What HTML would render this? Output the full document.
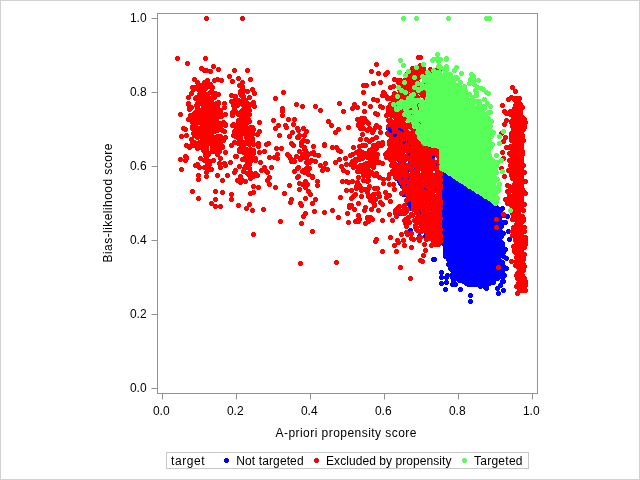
<!DOCTYPE html>
<html><head><meta charset="utf-8"><title>Scatter</title>
<style>
html,body{margin:0;padding:0;background:#fff;}
body{width:640px;height:480px;overflow:hidden;}
svg{display:block;}
text{font-family:"Liberation Sans",sans-serif;font-size:12px;fill:#000;}
</style></head><body>
<svg style="will-change:transform" width="640" height="480" viewBox="0 0 640 480">
<rect x="0" y="0" width="640" height="480" fill="#fff"/>
<rect x="0.5" y="0.5" width="639" height="479" fill="none" stroke="#d2d2d2" stroke-width="1"/>
<g transform="translate(.5,.5)" fill="none" stroke-width="5" stroke-linecap="round" shape-rendering="crispEdges">
<path stroke="#0000ff" d="M445 171h0M447 174h0M449 174h0M446 177h0M448 176h0M450 176h0M452 176h0M454 177h0M444 178h0M446 178h0M450 178h0M451 178h0M454 179h0M456 178h0M445 181h0M447 182h0M450 181h0M452 182h0M455 181h0M457 182h0M459 181h0M446 184h0M448 183h0M451 185h0M454 183h0M456 184h0M459 184h0M461 184h0M464 183h0M465 183h0M446 185h0M447 185h0M450 186h0M452 187h0M455 187h0M457 187h0M460 185h0M462 185h0M465 186h0M467 187h0M469 187h0M446 189h0M448 189h0M451 189h0M454 189h0M456 189h0M458 188h0M460 189h0M463 188h0M465 188h0M469 188h0M470 188h0M472 189h0M446 191h0M447 191h0M450 190h0M453 191h0M455 192h0M458 192h0M459 191h0M463 190h0M464 191h0M466 191h0M469 192h0M471 191h0M474 192h0M444 194h0M446 193h0M449 193h0M452 193h0M454 192h0M456 194h0M459 193h0M460 194h0M463 193h0M466 193h0M467 192h0M471 194h0M473 194h0M476 193h0M477 193h0M479 193h0M446 196h0M447 196h0M449 196h0M453 195h0M455 197h0M457 196h0M459 196h0M462 196h0M464 196h0M467 195h0M469 196h0M471 195h0M474 195h0M477 195h0M480 196h0M481 195h0M483 196h0M445 199h0M447 197h0M448 198h0M451 198h0M453 198h0M457 198h0M458 197h0M461 198h0M464 197h0M465 198h0M468 198h0M471 199h0M473 199h0M475 198h0M477 198h0M479 198h0M482 197h0M485 199h0M487 197h0M445 201h0M448 201h0M450 201h0M452 200h0M455 201h0M457 200h0M459 201h0M461 200h0M464 201h0M467 200h0M469 201h0M471 200h0M474 200h0M476 201h0M479 200h0M481 200h0M484 201h0M487 200h0M489 201h0M491 200h0M447 202h0M449 203h0M452 202h0M454 204h0M455 203h0M459 203h0M461 202h0M464 202h0M465 202h0M468 203h0M470 202h0M473 203h0M475 203h0M477 203h0M479 203h0M482 202h0M486 202h0M487 203h0M490 202h0M493 203h0M445 205h0M448 206h0M449 205h0M452 205h0M455 205h0M456 206h0M460 206h0M462 206h0M464 205h0M467 205h0M469 206h0M472 206h0M473 206h0M477 206h0M479 205h0M481 205h0M484 205h0M486 205h0M488 206h0M491 204h0M494 205h0M495 206h0M445 208h0M447 207h0M448 207h0M451 208h0M453 207h0M456 208h0M459 209h0M461 208h0M463 207h0M466 207h0M469 207h0M471 207h0M473 207h0M475 208h0M477 207h0M479 207h0M482 209h0M485 208h0M487 207h0M489 208h0M492 208h0M494 208h0M497 208h0M446 211h0M447 210h0M450 210h0M453 210h0M454 211h0M458 211h0M460 209h0M462 209h0M464 210h0M467 210h0M469 210h0M471 210h0M474 210h0M477 210h0M479 210h0M481 211h0M483 211h0M486 211h0M489 211h0M491 210h0M492 210h0M496 210h0M446 213h0M450 212h0M454 213h0M457 212h0M458 212h0M461 213h0M463 212h0M466 212h0M467 213h0M470 212h0M473 213h0M475 212h0M478 213h0M479 212h0M483 212h0M485 213h0M488 213h0M489 212h0M492 212h0M494 212h0M496 212h0M445 215h0M448 215h0M450 215h0M452 215h0M456 215h0M457 215h0M459 214h0M462 216h0M465 216h0M467 216h0M469 216h0M472 215h0M474 215h0M477 215h0M479 214h0M481 215h0M484 215h0M486 215h0M489 216h0M490 216h0M494 214h0M496 216h0M498 215h0M446 217h0M448 217h0M450 217h0M453 217h0M455 218h0M459 216h0M460 218h0M463 217h0M466 218h0M467 217h0M471 217h0M473 217h0M474 217h0M478 216h0M480 217h0M482 217h0M484 217h0M487 218h0M490 218h0M493 218h0M494 217h0M496 218h0M445 220h0M448 219h0M451 219h0M452 220h0M456 219h0M457 220h0M460 220h0M462 220h0M464 220h0M466 220h0M470 219h0M471 220h0M474 219h0M476 219h0M479 219h0M481 221h0M484 221h0M486 219h0M489 219h0M491 220h0M493 220h0M496 220h0M498 219h0M447 223h0M449 222h0M451 222h0M453 222h0M456 222h0M459 223h0M461 223h0M464 223h0M466 222h0M467 222h0M470 221h0M472 222h0M476 221h0M478 221h0M482 222h0M485 222h0M487 223h0M489 223h0M492 221h0M495 223h0M496 223h0M445 225h0M448 225h0M450 224h0M452 224h0M454 224h0M457 224h0M460 224h0M461 224h0M464 225h0M466 224h0M470 224h0M472 224h0M474 225h0M476 225h0M478 225h0M480 224h0M484 224h0M485 225h0M489 225h0M491 224h0M493 225h0M495 224h0M446 228h0M448 226h0M452 227h0M454 227h0M455 227h0M458 226h0M460 226h0M463 227h0M466 226h0M467 227h0M470 226h0M473 226h0M476 227h0M477 228h0M480 227h0M483 227h0M485 226h0M486 227h0M490 227h0M492 227h0M495 227h0M497 228h0M445 229h0M447 229h0M450 229h0M452 230h0M455 229h0M457 229h0M460 230h0M461 230h0M465 230h0M466 229h0M470 229h0M471 229h0M474 229h0M476 229h0M480 230h0M481 229h0M483 230h0M487 230h0M488 228h0M491 229h0M493 230h0M496 229h0M498 228h0M446 231h0M449 232h0M452 232h0M453 231h0M456 232h0M458 231h0M460 232h0M464 232h0M465 231h0M468 231h0M470 233h0M473 231h0M474 232h0M478 232h0M481 232h0M482 231h0M484 232h0M487 232h0M490 231h0M491 231h0M494 231h0M498 231h0M498 232h0M445 233h0M448 234h0M450 233h0M452 233h0M454 234h0M457 235h0M460 234h0M463 234h0M464 235h0M466 235h0M469 233h0M472 235h0M474 234h0M476 234h0M479 233h0M481 235h0M483 234h0M486 233h0M488 234h0M491 235h0M494 234h0M496 234h0M497 234h0M447 236h0M449 236h0M451 237h0M453 236h0M456 237h0M459 236h0M461 236h0M464 236h0M465 237h0M468 236h0M470 237h0M474 236h0M475 237h0M477 237h0M480 237h0M482 237h0M485 236h0M487 237h0M489 237h0M492 236h0M495 237h0M497 236h0M498 236h0M446 239h0M447 240h0M450 239h0M453 239h0M455 238h0M457 238h0M459 239h0M461 240h0M465 239h0M468 239h0M470 238h0M472 240h0M474 238h0M477 239h0M478 239h0M481 240h0M483 238h0M486 239h0M489 239h0M491 239h0M493 239h0M496 239h0M497 239h0M446 241h0M449 241h0M452 241h0M454 242h0M456 242h0M459 241h0M460 241h0M463 242h0M465 242h0M468 241h0M471 242h0M472 241h0M475 242h0M478 241h0M479 242h0M482 241h0M485 242h0M488 241h0M490 241h0M492 242h0M494 241h0M496 241h0M445 244h0M448 243h0M450 244h0M452 244h0M455 243h0M458 244h0M460 243h0M462 244h0M464 244h0M466 243h0M469 244h0M472 243h0M474 244h0M477 245h0M479 243h0M481 243h0M483 243h0M486 243h0M489 244h0M491 245h0M494 243h0M496 244h0M499 244h0M446 246h0M448 247h0M452 247h0M453 246h0M456 247h0M458 246h0M461 246h0M463 247h0M465 246h0M469 246h0M471 247h0M472 246h0M475 246h0M477 247h0M479 246h0M482 246h0M485 246h0M488 245h0M490 247h0M493 246h0M494 246h0M496 247h0M499 246h0M447 249h0M450 249h0M453 248h0M455 249h0M457 249h0M460 249h0M462 248h0M465 248h0M466 248h0M469 249h0M472 249h0M473 249h0M476 249h0M479 249h0M480 249h0M483 248h0M486 249h0M488 249h0M491 248h0M493 249h0M496 248h0M497 248h0M446 251h0M449 250h0M451 251h0M454 252h0M457 251h0M458 252h0M460 252h0M463 251h0M465 250h0M468 251h0M471 251h0M474 251h0M475 251h0M478 250h0M481 252h0M483 251h0M485 251h0M487 251h0M490 252h0M493 251h0M495 250h0M498 251h0M499 251h0M448 252h0M451 254h0M452 254h0M455 254h0M458 253h0M459 253h0M463 254h0M464 253h0M467 254h0M469 253h0M471 253h0M474 254h0M476 253h0M480 254h0M482 253h0M484 253h0M486 254h0M489 253h0M491 254h0M492 253h0M496 254h0M498 253h0M446 256h0M448 255h0M451 255h0M454 256h0M456 255h0M458 257h0M461 256h0M464 256h0M466 256h0M468 256h0M470 256h0M474 256h0M476 255h0M477 257h0M480 256h0M482 256h0M485 256h0M487 255h0M489 256h0M491 255h0M495 256h0M497 256h0M499 255h0M448 259h0M450 258h0M453 258h0M454 258h0M457 258h0M459 258h0M462 259h0M464 258h0M467 258h0M469 258h0M471 258h0M473 259h0M476 259h0M480 258h0M482 258h0M484 258h0M486 258h0M488 259h0M490 258h0M493 258h0M495 259h0M497 258h0M449 261h0M452 260h0M453 260h0M456 261h0M458 260h0M462 260h0M463 261h0M466 261h0M469 261h0M471 260h0M472 261h0M475 260h0M478 261h0M481 261h0M483 261h0M485 260h0M487 261h0M489 260h0M493 261h0M495 261h0M496 260h0M450 262h0M452 263h0M455 263h0M457 263h0M460 263h0M462 264h0M465 264h0M467 264h0M469 264h0M472 262h0M474 262h0M477 264h0M479 263h0M481 264h0M483 263h0M485 262h0M489 262h0M490 263h0M493 263h0M496 262h0M499 263h0M448 264h0M451 265h0M453 266h0M455 265h0M458 266h0M462 265h0M463 265h0M466 265h0M468 264h0M471 266h0M472 264h0M476 265h0M477 265h0M480 266h0M482 266h0M485 265h0M488 266h0M490 265h0M492 266h0M494 266h0M498 266h0M499 266h0M450 268h0M452 267h0M454 268h0M457 267h0M460 268h0M462 268h0M464 267h0M467 268h0M469 269h0M471 268h0M473 268h0M477 267h0M478 267h0M481 268h0M483 267h0M486 268h0M488 268h0M490 267h0M493 269h0M496 267h0M499 268h0M452 270h0M454 270h0M456 269h0M459 271h0M461 270h0M463 270h0M466 271h0M468 271h0M470 270h0M473 269h0M475 269h0M477 270h0M481 271h0M483 271h0M485 271h0M487 270h0M490 270h0M491 271h0M494 270h0M497 269h0M453 272h0M455 272h0M457 272h0M460 272h0M462 272h0M465 273h0M467 272h0M469 272h0M472 273h0M474 273h0M477 273h0M479 273h0M480 272h0M484 273h0M486 272h0M488 272h0M491 272h0M494 273h0M495 273h0M497 272h0M454 274h0M456 275h0M459 274h0M460 274h0M464 275h0M465 274h0M468 275h0M470 275h0M473 275h0M476 274h0M478 275h0M480 275h0M482 275h0M485 275h0M488 276h0M489 275h0M492 275h0M495 274h0M497 274h0M499 274h0M456 276h0M458 278h0M460 278h0M462 278h0M464 278h0M466 277h0M470 277h0M472 276h0M474 277h0M476 278h0M479 278h0M481 278h0M483 277h0M485 278h0M488 277h0M491 277h0M493 277h0M495 277h0M498 277h0M459 280h0M461 279h0M463 279h0M465 279h0M469 279h0M470 280h0M473 279h0M474 280h0M477 281h0M481 280h0M483 280h0M484 281h0M487 280h0M490 279h0M492 279h0M494 279h0M463 281h0M465 281h0M467 282h0M470 282h0M471 281h0M475 282h0M477 282h0M480 283h0M481 283h0M483 282h0M486 282h0M489 281h0M491 282h0M493 282h0M468 284h0M471 284h0M474 284h0M476 284h0M478 284h0M483 284h0M443 172h0M443 173h0M443 175h0M443 176h0M443 178h0M443 180h0M443 181h0M443 183h0M443 185h0M443 186h0M443 188h0M443 189h0M443 191h0M443 193h0M443 195h0M443 196h0M443 198h0M443 200h0M443 201h0M443 203h0M443 205h0M443 206h0M443 208h0M443 209h0M443 211h0M443 213h0M443 215h0M443 216h0M443 218h0M443 219h0M443 221h0M443 223h0M443 224h0M443 226h0M443 227h0M443 229h0M443 231h0M443 233h0M443 234h0M443 236h0M443 237h0M443 239h0M443 241h0M443 243h0M445 243h0M445 245h0M445 246h0M445 248h0M445 250h0M445 252h0M445 254h0M445 256h0M453 281h0M452 268h0M467 273h0M500 270h0M461 237h0M476 246h0M489 271h0M473 240h0M466 244h0M473 267h0M451 262h0M495 243h0M478 259h0M484 249h0M477 255h0M468 266h0M451 266h0M483 281h0M474 263h0M497 278h0M456 267h0M453 252h0M476 251h0M498 268h0M455 267h0M474 252h0M465 254h0M469 257h0M475 252h0M453 273h0M452 277h0M462 261h0M467 263h0M500 268h0M449 258h0M474 249h0M470 278h0M464 233h0M474 241h0M460 255h0M490 273h0M481 258h0M457 257h0M486 286h0M471 279h0M481 254h0M451 257h0M462 266h0M460 259h0M483 249h0M482 249h0M479 265h0M469 251h0M477 269h0M482 270h0M465 275h0M473 250h0M470 248h0M481 260h0M490 269h0M466 283h0M466 280h0M484 276h0M469 277h0M470 266h0M480 274h0M479 260h0M455 275h0M491 244h0M467 281h0M484 286h0M465 266h0M500 252h0M460 269h0M462 277h0M457 260h0M479 266h0M490 257h0M473 277h0M473 256h0M495 266h0M457 278h0M471 262h0M488 263h0M486 288h0M483 255h0M470 260h0M480 286h0M491 269h0M479 271h0M473 252h0M467 266h0M467 276h0M489 261h0M459 256h0M466 258h0M480 262h0M480 276h0M478 269h0M468 255h0M478 254h0M452 274h0M455 270h0M480 251h0M495 244h0M468 263h0M466 257h0M502 262h0M478 268h0M482 261h0M495 272h0M478 257h0M463 249h0M475 278h0M502 281h0M459 263h0M473 243h0M479 268h0M477 271h0M484 277h0M473 258h0M482 255h0M462 255h0M486 252h0M464 266h0M470 255h0M464 260h0M485 259h0M480 246h0M474 258h0M469 271h0M489 283h0M475 266h0M491 281h0M488 267h0M462 263h0M496 261h0M495 265h0M471 256h0M462 267h0M504 275h0M455 284h0M456 273h0M480 280h0M466 274h0M471 265h0M479 255h0M476 264h0M447 275h0M456 250h0M476 269h0M502 245h0M492 261h0M476 260h0M498 264h0M469 265h0M484 262h0M467 278h0M472 272h0M468 270h0M463 263h0M479 269h0M494 262h0M503 252h0M499 218h0M502 208h0M499 273h0M500 262h0M497 250h0M502 273h0M499 219h0M499 260h0M499 231h0M502 243h0M502 270h0M499 222h0M499 228h0M501 233h0M502 254h0M497 241h0M497 255h0M500 235h0M502 277h0M503 215h0M499 242h0M499 212h0M500 242h0M502 251h0M500 227h0M498 226h0M498 212h0M498 260h0M501 251h0M501 232h0M501 213h0M500 271h0M498 241h0M503 266h0M498 261h0M499 264h0M501 226h0M500 241h0M503 251h0M500 231h0M503 256h0M499 214h0M501 253h0M503 233h0M501 236h0M498 245h0M500 212h0M497 235h0M502 246h0M499 250h0M502 268h0M497 213h0M502 222h0M500 224h0M498 271h0M500 246h0M501 242h0M499 234h0M499 247h0M501 266h0M498 225h0M501 262h0M470 295h0M470 301h0M498 293h0M441 272h0M446 277h0M460 289h0M452 284h0M441 283h0M445 289h0M507 216h0M509 239h0M506 258h0M505 249h0M503 281h0M500 285h0M497 288h0M505 222h0M508 231h0M506 268h0M503 290h0M407 169h0M429 177h0M424 218h0M433 151h0M399 133h0M421 204h0M428 149h0M419 207h0M426 214h0M408 180h0M434 187h0M407 191h0M416 191h0M425 211h0M402 181h0M427 201h0M425 186h0M427 218h0M425 188h0M421 195h0M431 157h0M412 200h0M412 204h0M406 190h0M430 158h0M396 138h0M405 131h0M433 222h0M413 138h0M405 159h0M429 219h0M399 152h0M427 175h0M424 204h0M427 181h0M423 215h0M405 183h0M396 149h0M402 157h0M430 217h0M427 166h0M427 176h0M416 145h0M424 192h0M400 138h0M396 171h0M411 207h0M414 181h0M422 151h0M426 174h0M406 133h0M405 194h0M429 220h0M414 204h0M410 151h0M403 141h0M431 149h0M404 158h0M435 222h0M422 213h0M430 172h0M426 190h0M434 190h0M413 181h0M403 193h0M404 156h0M409 164h0M426 149h0M432 167h0M411 204h0M403 194h0M424 151h0M405 136h0M424 219h0M422 180h0M417 209h0M409 200h0M413 195h0M416 140h0M414 168h0M396 147h0M415 141h0M421 142h0M415 179h0M414 203h0M398 176h0M429 218h0M412 139h0M425 199h0M411 137h0M405 139h0M403 133h0M402 175h0M418 149h0M411 160h0M415 149h0M433 168h0M411 145h0M417 150h0M407 176h0M400 183h0M422 223h0M429 169h0M417 171h0M405 172h0M415 182h0M406 181h0M399 160h0M417 177h0M410 194h0M414 171h0M420 145h0M415 138h0M412 172h0M428 225h0M416 150h0M404 142h0M433 199h0M424 220h0M425 210h0M413 184h0M419 215h0M432 208h0M426 172h0M418 196h0M406 191h0M435 202h0M411 159h0M414 159h0M426 187h0M412 152h0M418 220h0M400 154h0M421 194h0M424 184h0M416 151h0M411 169h0M427 197h0M424 226h0M399 127h0M418 198h0M403 146h0M400 147h0M430 181h0M419 209h0M410 187h0M424 185h0M402 138h0M413 177h0M413 200h0M405 158h0M424 213h0M428 215h0M412 188h0M403 168h0M418 155h0M419 187h0M397 148h0M425 231h0M427 223h0M418 185h0M433 179h0M420 208h0M416 171h0M435 226h0M435 167h0M402 154h0M418 139h0M435 184h0M419 188h0M425 187h0M428 211h0M395 131h0M403 187h0M409 208h0M408 136h0M410 155h0M430 152h0M414 190h0M432 156h0M403 178h0M408 203h0M435 182h0M409 166h0M422 220h0M420 148h0M434 164h0M410 179h0M419 222h0M410 188h0M432 210h0M417 165h0M388 128h0M391 133h0M394 126h0M389 131h0M400 213h0M410 230h0M419 236h0M425 236h0M433 259h0M421 226h0M424 224h0M396 178h0M399 181h0M402 186h0M434 259h0M441 277h0M446 282h0"/>
<path stroke="#ff0000" d="M203 102h0M202 104h0M201 88h0M205 130h0M215 111h0M207 144h0M205 117h0M202 112h0M200 128h0M212 128h0M204 114h0M206 131h0M213 144h0M208 111h0M217 145h0M214 116h0M199 136h0M202 119h0M216 112h0M206 125h0M212 98h0M198 89h0M188 119h0M190 115h0M201 98h0M209 161h0M213 106h0M215 130h0M217 130h0M195 112h0M209 115h0M204 84h0M225 124h0M206 156h0M199 142h0M211 140h0M206 108h0M208 99h0M212 137h0M210 125h0M203 116h0M205 114h0M205 132h0M212 111h0M200 117h0M192 87h0M214 97h0M212 131h0M219 111h0M216 103h0M212 125h0M205 144h0M224 103h0M209 113h0M220 167h0M219 139h0M215 125h0M211 92h0M210 134h0M202 116h0M196 105h0M202 88h0M217 112h0M218 102h0M210 113h0M201 89h0M209 141h0M215 116h0M203 97h0M205 134h0M209 130h0M212 110h0M218 94h0M213 118h0M218 128h0M209 132h0M202 91h0M212 122h0M206 84h0M214 138h0M208 127h0M206 138h0M199 120h0M206 119h0M209 109h0M213 66h0M211 169h0M197 115h0M216 126h0M211 128h0M214 108h0M216 119h0M215 126h0M208 110h0M208 128h0M204 143h0M206 136h0M214 125h0M208 134h0M211 109h0M206 113h0M207 94h0M209 136h0M195 134h0M218 141h0M195 118h0M207 142h0M211 101h0M207 117h0M200 99h0M210 117h0M198 122h0M201 120h0M208 105h0M196 127h0M210 131h0M206 82h0M217 107h0M204 136h0M201 129h0M205 125h0M189 147h0M219 137h0M211 135h0M209 119h0M202 122h0M209 99h0M206 121h0M225 165h0M214 121h0M218 103h0M199 131h0M197 82h0M209 164h0M204 133h0M221 116h0M210 114h0M198 104h0M206 123h0M223 122h0M203 92h0M215 140h0M194 115h0M202 101h0M208 139h0M207 136h0M207 111h0M210 109h0M219 142h0M193 114h0M209 125h0M216 148h0M215 93h0M206 106h0M204 111h0M201 122h0M217 140h0M197 114h0M208 154h0M208 126h0M210 84h0M202 136h0M215 143h0M198 109h0M202 120h0M195 165h0M207 105h0M191 93h0M213 129h0M200 101h0M197 148h0M209 86h0M194 135h0M215 123h0M207 118h0M217 147h0M198 111h0M217 136h0M209 112h0M217 154h0M208 123h0M216 123h0M207 134h0M204 121h0M200 131h0M209 134h0M205 124h0M206 112h0M206 133h0M211 132h0M206 102h0M202 117h0M211 91h0M225 125h0M202 139h0M208 169h0M213 128h0M219 151h0M204 137h0M195 87h0M199 114h0M217 129h0M192 128h0M189 106h0M211 87h0M212 130h0M216 145h0M225 114h0M209 133h0M217 113h0M213 120h0M204 138h0M216 105h0M207 126h0M223 140h0M217 122h0M208 100h0M213 119h0M209 98h0M200 134h0M198 114h0M208 125h0M212 87h0M219 141h0M212 123h0M209 104h0M202 125h0M220 142h0M220 110h0M208 112h0M218 148h0M207 152h0M213 160h0M211 124h0M215 105h0M216 104h0M214 131h0M218 147h0M188 103h0M205 151h0M205 106h0M202 110h0M188 97h0M220 136h0M211 121h0M194 123h0M201 68h0M210 71h0M204 160h0M204 129h0M213 143h0M217 117h0M207 140h0M206 147h0M209 103h0M224 163h0M211 103h0M218 126h0M192 116h0M198 120h0M193 87h0M203 118h0M210 101h0M206 120h0M214 129h0M203 125h0M218 150h0M195 130h0M201 135h0M206 149h0M225 137h0M196 119h0M213 148h0M207 112h0M207 121h0M191 118h0M204 115h0M194 79h0M222 146h0M212 138h0M201 103h0M197 135h0M202 99h0M213 151h0M200 121h0M212 115h0M218 69h0M214 80h0M210 104h0M186 158h0M207 86h0M196 97h0M205 142h0M186 145h0M216 121h0M220 126h0M186 157h0M200 122h0M201 146h0M193 145h0M207 163h0M206 151h0M195 98h0M198 102h0M221 80h0M203 98h0M203 105h0M185 156h0M207 80h0M212 146h0M204 70h0M180 114h0M215 137h0M192 126h0M181 136h0M214 137h0M203 150h0M198 117h0M181 169h0M197 137h0M197 129h0M185 129h0M206 148h0M198 84h0M206 122h0M222 147h0M197 143h0M206 97h0M191 139h0M222 130h0M202 109h0M206 70h0M198 85h0M217 79h0M205 155h0M206 159h0M213 95h0M197 164h0M191 107h0M208 129h0M205 58h0M183 128h0M197 103h0M193 89h0M192 122h0M188 104h0M224 107h0M192 142h0M209 122h0M207 130h0M220 123h0M205 131h0M219 163h0M225 152h0M190 146h0M212 105h0M207 166h0M212 151h0M189 109h0M212 148h0M210 119h0M221 114h0M194 142h0M199 167h0M206 114h0M204 167h0M204 82h0M220 158h0M224 131h0M186 135h0M202 100h0M204 146h0M203 149h0M205 154h0M180 159h0M210 138h0M205 88h0M200 85h0M213 114h0M185 160h0M200 87h0M209 117h0M199 147h0M214 120h0M199 94h0M193 133h0M197 109h0M206 105h0M204 139h0M200 158h0M212 143h0M210 92h0M204 106h0M212 129h0M194 125h0M205 139h0M187 63h0M247 131h0M247 91h0M249 114h0M240 150h0M250 136h0M232 81h0M241 179h0M237 135h0M252 139h0M240 120h0M233 105h0M239 85h0M246 133h0M242 128h0M245 122h0M245 151h0M252 138h0M244 100h0M241 117h0M250 161h0M243 90h0M244 114h0M244 142h0M238 143h0M238 132h0M242 117h0M259 131h0M238 131h0M239 151h0M240 122h0M242 130h0M250 150h0M235 130h0M241 95h0M248 153h0M240 121h0M237 137h0M234 109h0M241 126h0M242 102h0M249 175h0M234 100h0M249 158h0M229 76h0M249 137h0M259 122h0M244 159h0M250 137h0M244 115h0M253 150h0M239 103h0M247 103h0M236 129h0M246 156h0M246 149h0M243 125h0M248 163h0M249 97h0M237 105h0M249 129h0M238 78h0M261 170h0M242 127h0M246 121h0M249 144h0M246 128h0M242 82h0M252 127h0M238 135h0M250 177h0M251 132h0M243 171h0M239 131h0M240 85h0M251 153h0M252 134h0M248 115h0M233 101h0M238 120h0M247 152h0M250 156h0M241 112h0M250 140h0M240 134h0M244 149h0M235 125h0M247 70h0M241 121h0M256 175h0M248 107h0M245 125h0M247 155h0M240 125h0M238 100h0M234 131h0M240 126h0M245 106h0M245 127h0M243 91h0M242 86h0M243 99h0M244 126h0M245 131h0M247 114h0M247 163h0M239 149h0M249 133h0M249 164h0M257 175h0M243 152h0M232 115h0M247 156h0M245 166h0M240 144h0M253 129h0M247 140h0M239 142h0M250 178h0M248 133h0M251 134h0M243 109h0M233 135h0M255 158h0M239 120h0M248 119h0M232 112h0M236 112h0M253 144h0M231 95h0M246 137h0M250 104h0M248 109h0M242 121h0M235 136h0M259 152h0M245 157h0M247 151h0M232 113h0M243 98h0M238 103h0M235 132h0M240 137h0M234 104h0M234 70h0M243 142h0M242 101h0M244 130h0M243 131h0M240 140h0M247 139h0M240 129h0M249 110h0M246 113h0M231 101h0M250 157h0M250 127h0M243 151h0M252 141h0M240 115h0M239 166h0M240 93h0M244 108h0M251 155h0M245 159h0M264 167h0M231 145h0M235 156h0M240 176h0M254 106h0M242 159h0M241 147h0M243 133h0M250 172h0M240 182h0M253 153h0M249 152h0M265 170h0M243 96h0M244 131h0M234 142h0M245 128h0M249 121h0M267 172h0M252 131h0M252 140h0M269 184h0M253 176h0M236 156h0M254 93h0M244 119h0M234 107h0M237 180h0M245 118h0M253 186h0M250 143h0M257 134h0M240 132h0M241 90h0M239 125h0M244 168h0M230 162h0M260 162h0M243 144h0M252 153h0M266 144h0M250 79h0M238 114h0M258 146h0M255 173h0M248 138h0M258 143h0M255 160h0M243 105h0M232 125h0M245 110h0M252 157h0M269 177h0M250 141h0M246 112h0M233 124h0M246 154h0M247 122h0M237 124h0M234 172h0M245 181h0M240 141h0M245 100h0M235 96h0M250 160h0M233 111h0M247 137h0M240 131h0M252 143h0M250 149h0M253 102h0M244 144h0M238 138h0M240 91h0M252 89h0M247 173h0M235 170h0M249 168h0M244 143h0M247 164h0M241 111h0M177 58h0M206 18h0M242 18h0M192 191h0M198 198h0M198 175h0M198 179h0M206 172h0M206 176h0M211 203h0M215 191h0M222 192h0M215 199h0M215 206h0M220 206h0M217 175h0M222 180h0M227 175h0M231 194h0M231 199h0M238 205h0M246 208h0M249 204h0M252 210h0M263 209h0M253 234h0M250 193h0M253 192h0M258 187h0M267 180h0M275 187h0M300 263h0M336 262h0M276 156h0M276 148h0M291 143h0M268 143h0M277 158h0M279 135h0M277 154h0M281 148h0M269 157h0M274 157h0M278 125h0M271 167h0M275 128h0M291 199h0M264 151h0M293 145h0M304 149h0M307 172h0M304 135h0M299 151h0M324 144h0M306 168h0M300 158h0M308 161h0M291 161h0M306 158h0M327 169h0M296 156h0M307 153h0M292 144h0M303 140h0M313 146h0M293 160h0M294 171h0M313 152h0M305 186h0M308 174h0M307 155h0M291 160h0M287 154h0M285 125h0M307 167h0M290 158h0M286 127h0M297 168h0M301 145h0M305 150h0M314 154h0M294 161h0M304 147h0M302 154h0M293 124h0M306 162h0M305 153h0M313 153h0M320 165h0M322 170h0M311 153h0M309 168h0M299 183h0M289 136h0M306 155h0M297 128h0M300 159h0M298 176h0M306 152h0M299 135h0M324 145h0M311 160h0M298 130h0M306 131h0M315 161h0M292 132h0M305 155h0M298 137h0M303 128h0M298 167h0M304 172h0M307 141h0M308 191h0M289 156h0M309 162h0M303 157h0M297 137h0M302 171h0M280 221h0M289 185h0M303 170h0M290 202h0M307 184h0M300 203h0M310 194h0M303 216h0M312 176h0M305 181h0M314 211h0M301 223h0M284 193h0M305 213h0M305 198h0M299 189h0M318 155h0M312 231h0M324 212h0M301 142h0M301 205h0M312 177h0M324 168h0M297 177h0M312 203h0M305 187h0M302 184h0M317 185h0M317 181h0M315 199h0M336 147h0M341 166h0M342 181h0M338 129h0M345 158h0M346 190h0M339 159h0M343 170h0M332 147h0M335 132h0M338 150h0M335 162h0M340 151h0M368 196h0M362 158h0M362 152h0M367 171h0M355 166h0M376 173h0M370 196h0M379 145h0M358 177h0M364 189h0M361 188h0M372 132h0M371 155h0M374 188h0M374 162h0M357 171h0M370 159h0M368 188h0M367 167h0M372 156h0M350 164h0M361 190h0M365 170h0M360 128h0M357 119h0M375 175h0M375 127h0M382 163h0M359 146h0M346 164h0M373 145h0M364 111h0M357 187h0M371 158h0M366 155h0M351 190h0M367 173h0M352 181h0M371 154h0M355 161h0M353 167h0M373 146h0M374 175h0M364 167h0M356 152h0M371 150h0M367 176h0M368 155h0M363 166h0M353 164h0M362 154h0M360 165h0M365 174h0M365 145h0M374 145h0M368 176h0M362 134h0M383 183h0M368 170h0M369 186h0M360 158h0M352 161h0M370 164h0M363 128h0M369 141h0M346 181h0M381 145h0M366 139h0M373 165h0M356 186h0M367 157h0M367 153h0M376 158h0M373 167h0M348 127h0M368 166h0M363 180h0M368 180h0M371 172h0M375 199h0M356 159h0M359 157h0M367 192h0M372 173h0M358 215h0M366 174h0M355 194h0M366 163h0M365 223h0M378 193h0M359 219h0M370 217h0M352 154h0M369 128h0M382 204h0M353 147h0M362 123h0M338 217h0M370 173h0M386 157h0M358 151h0M369 150h0M379 196h0M359 150h0M368 163h0M360 171h0M362 145h0M367 217h0M374 152h0M366 121h0M365 207h0M376 162h0M371 157h0M370 129h0M350 155h0M365 164h0M357 182h0M382 144h0M372 148h0M380 202h0M359 155h0M353 196h0M359 185h0M372 201h0M360 119h0M373 157h0M379 177h0M364 210h0M376 125h0M347 213h0M356 188h0M361 196h0M364 118h0M354 209h0M363 175h0M376 148h0M374 148h0M371 209h0M358 124h0M379 162h0M373 195h0M358 125h0M376 137h0M364 164h0M372 219h0M370 200h0M372 139h0M380 132h0M389 195h0M371 196h0M368 221h0M367 218h0M373 130h0M355 159h0M368 123h0M388 178h0M374 198h0M377 154h0M367 130h0M387 133h0M373 194h0M365 153h0M361 168h0M372 163h0M383 179h0M361 171h0M359 159h0M347 172h0M374 204h0M358 152h0M361 118h0M358 221h0M359 168h0M374 194h0M360 139h0M365 169h0M348 182h0M374 205h0M348 222h0M358 203h0M349 205h0M382 220h0M376 239h0M357 220h0M378 210h0M340 197h0M367 181h0M349 207h0M355 221h0M351 205h0M366 189h0M332 210h0M351 198h0M377 188h0M325 163h0M283 92h0M275 98h0M282 108h0M282 111h0M282 115h0M273 120h0M288 119h0M294 119h0M296 104h0M302 106h0M315 106h0M320 110h0M328 121h0M331 125h0M339 103h0M343 111h0M354 104h0M352 108h0M357 107h0M364 103h0M370 106h0M363 92h0M363 85h0M366 85h0M373 83h0M380 82h0M371 71h0M378 73h0M387 72h0M383 92h0M382 95h0M373 99h0M377 100h0M376 64h0M387 98h0M375 113h0M377 114h0M382 107h0M386 115h0M418 57h0M420 57h0M420 65h0M385 74h0M394 79h0M397 80h0M390 87h0M393 86h0M412 68h0M384 93h0M389 98h0M389 107h0M438 93h0M435 101h0M433 161h0M394 109h0M416 92h0M413 98h0M392 123h0M425 198h0M404 170h0M421 140h0M426 97h0M425 149h0M423 83h0M404 186h0M425 125h0M414 122h0M422 215h0M434 108h0M399 102h0M432 229h0M405 125h0M439 239h0M437 177h0M433 222h0M420 140h0M429 100h0M392 132h0M394 156h0M418 161h0M392 161h0M419 124h0M423 197h0M398 103h0M425 206h0M434 106h0M431 216h0M435 234h0M433 181h0M427 106h0M438 202h0M414 141h0M430 119h0M394 103h0M391 152h0M420 69h0M419 175h0M435 100h0M427 235h0M413 130h0M419 149h0M394 93h0M416 139h0M437 220h0M415 191h0M418 156h0M399 111h0M431 157h0M399 178h0M409 142h0M434 242h0M430 159h0M413 185h0M391 140h0M428 155h0M423 182h0M397 123h0M436 79h0M436 130h0M421 163h0M433 203h0M433 87h0M415 148h0M430 97h0M414 78h0M426 198h0M414 157h0M420 148h0M422 184h0M426 186h0M422 169h0M402 139h0M393 104h0M412 148h0M421 189h0M430 85h0M421 207h0M404 182h0M400 159h0M423 112h0M404 160h0M436 115h0M417 146h0M418 199h0M430 130h0M439 213h0M414 120h0M439 99h0M433 183h0M431 187h0M438 89h0M410 87h0M423 77h0M411 124h0M412 91h0M429 153h0M417 97h0M417 167h0M418 188h0M435 133h0M407 114h0M406 189h0M392 109h0M427 184h0M419 87h0M431 179h0M422 193h0M412 81h0M427 88h0M415 146h0M430 114h0M440 86h0M427 154h0M409 165h0M414 161h0M429 227h0M426 82h0M436 101h0M422 227h0M407 96h0M431 133h0M422 117h0M388 107h0M394 122h0M397 165h0M439 202h0M414 197h0M426 184h0M410 135h0M407 119h0M431 106h0M431 145h0M430 238h0M431 109h0M399 98h0M427 206h0M407 102h0M397 120h0M399 150h0M400 180h0M412 182h0M439 90h0M417 150h0M428 86h0M411 71h0M439 217h0M416 204h0M410 189h0M401 162h0M429 122h0M439 171h0M408 101h0M416 69h0M436 91h0M390 147h0M429 197h0M410 102h0M439 194h0M423 172h0M416 173h0M411 178h0M412 186h0M431 182h0M407 89h0M408 135h0M420 146h0M433 241h0M423 164h0M426 73h0M435 244h0M397 174h0M437 99h0M418 86h0M420 177h0M407 115h0M424 197h0M393 144h0M408 96h0M400 117h0M417 156h0M410 140h0M396 165h0M413 104h0M421 182h0M401 119h0M434 175h0M435 213h0M420 183h0M433 154h0M419 122h0M429 211h0M425 228h0M412 192h0M410 180h0M425 139h0M433 74h0M424 106h0M416 155h0M413 91h0M417 153h0M439 205h0M438 102h0M396 119h0M402 165h0M424 94h0M423 195h0M419 106h0M429 87h0M402 110h0M432 206h0M414 202h0M422 84h0M399 123h0M422 85h0M427 144h0M437 145h0M431 75h0M434 128h0M438 131h0M426 124h0M421 184h0M407 106h0M408 182h0M392 151h0M434 81h0M438 178h0M414 81h0M426 98h0M422 197h0M432 77h0M400 127h0M409 194h0M428 208h0M432 87h0M433 214h0M431 169h0M439 88h0M408 147h0M414 156h0M406 115h0M412 106h0M425 147h0M409 181h0M413 99h0M402 151h0M397 109h0M415 111h0M416 118h0M439 216h0M437 214h0M432 167h0M405 145h0M437 119h0M399 122h0M426 200h0M406 168h0M431 76h0M404 100h0M416 146h0M432 137h0M429 190h0M438 239h0M437 88h0M393 130h0M428 147h0M416 110h0M409 74h0M426 168h0M397 116h0M433 76h0M391 113h0M429 76h0M428 119h0M416 198h0M406 74h0M426 156h0M395 109h0M429 109h0M416 102h0M407 78h0M428 218h0M391 143h0M424 113h0M420 121h0M417 78h0M429 99h0M423 124h0M420 112h0M417 74h0M411 157h0M421 222h0M428 141h0M411 151h0M420 137h0M426 117h0M427 132h0M425 157h0M388 109h0M398 151h0M420 108h0M419 196h0M419 120h0M401 124h0M416 174h0M436 81h0M412 147h0M394 142h0M425 124h0M433 83h0M431 231h0M410 159h0M430 192h0M390 140h0M396 174h0M438 122h0M430 212h0M391 132h0M424 206h0M427 168h0M432 196h0M411 117h0M389 131h0M415 172h0M403 160h0M389 149h0M418 155h0M408 193h0M411 107h0M397 111h0M403 86h0M409 96h0M437 137h0M423 87h0M430 188h0M400 90h0M437 242h0M403 145h0M434 223h0M396 95h0M422 95h0M431 124h0M420 76h0M421 72h0M430 175h0M396 135h0M437 154h0M434 196h0M424 217h0M436 151h0M409 133h0M405 179h0M394 158h0M415 105h0M405 156h0M400 135h0M419 155h0M414 95h0M436 143h0M426 130h0M400 104h0M408 187h0M417 159h0M436 148h0M407 138h0M439 71h0M438 167h0M407 125h0M424 111h0M430 195h0M417 169h0M401 129h0M416 199h0M417 72h0M408 116h0M432 231h0M414 137h0M412 189h0M400 113h0M435 225h0M429 191h0M404 124h0M433 101h0M434 118h0M407 151h0M415 153h0M411 156h0M431 153h0M422 203h0M423 157h0M428 168h0M408 83h0M409 126h0M390 148h0M403 174h0M439 154h0M426 159h0M417 217h0M429 79h0M401 114h0M423 176h0M439 95h0M419 187h0M416 211h0M407 132h0M438 77h0M390 151h0M439 233h0M413 163h0M405 165h0M430 70h0M424 167h0M425 105h0M399 89h0M420 144h0M414 205h0M432 203h0M434 222h0M409 112h0M421 201h0M408 86h0M414 117h0M425 178h0M412 96h0M425 161h0M430 167h0M399 84h0M413 77h0M423 146h0M399 125h0M418 152h0M427 171h0M404 149h0M426 171h0M414 124h0M406 136h0M409 95h0M428 122h0M436 202h0M439 191h0M391 135h0M413 199h0M416 212h0M407 80h0M433 70h0M415 80h0M437 233h0M400 173h0M398 166h0M414 198h0M421 197h0M396 171h0M398 134h0M400 155h0M393 100h0M424 204h0M415 199h0M412 128h0M402 155h0M413 72h0M426 181h0M435 168h0M437 107h0M414 119h0M438 201h0M436 153h0M424 126h0M427 82h0M411 168h0M397 143h0M431 83h0M401 88h0M415 138h0M436 134h0M409 82h0M420 74h0M403 158h0M431 135h0M403 93h0M397 113h0M393 153h0M414 143h0M425 222h0M401 158h0M404 159h0M397 171h0M414 125h0M417 206h0M393 126h0M413 150h0M438 143h0M399 87h0M415 93h0M417 218h0M421 135h0M391 115h0M429 142h0M428 111h0M400 123h0M409 108h0M396 139h0M401 142h0M405 94h0M432 118h0M434 120h0M422 120h0M408 81h0M429 163h0M410 77h0M413 177h0M423 155h0M428 154h0M421 143h0M433 140h0M437 75h0M413 73h0M432 103h0M402 82h0M427 234h0M400 119h0M423 68h0M399 144h0M439 113h0M426 209h0M416 178h0M409 97h0M414 196h0M394 154h0M420 143h0M411 109h0M407 94h0M409 159h0M415 97h0M406 89h0M420 197h0M422 93h0M409 150h0M401 100h0M436 142h0M417 117h0M430 75h0M392 154h0M396 149h0M432 106h0M435 77h0M436 178h0M404 116h0M414 159h0M394 133h0M425 91h0M404 136h0M439 135h0M434 116h0M433 102h0M410 157h0M426 127h0M439 221h0M427 216h0M409 192h0M395 134h0M414 175h0M428 206h0M410 107h0M425 122h0M416 116h0M418 168h0M398 97h0M439 116h0M389 144h0M423 181h0M412 183h0M429 189h0M403 183h0M413 114h0M414 104h0M426 148h0M398 176h0M400 134h0M431 94h0M430 112h0M434 154h0M417 88h0M422 210h0M402 117h0M412 142h0M430 120h0M414 127h0M415 158h0M432 146h0M395 155h0M427 177h0M431 142h0M427 152h0M417 194h0M408 113h0M434 93h0M437 185h0M437 170h0M406 86h0M426 225h0M429 162h0M421 93h0M416 82h0M434 168h0M438 98h0M434 97h0M412 114h0M408 138h0M417 151h0M424 83h0M430 103h0M417 71h0M404 150h0M434 89h0M428 232h0M425 118h0M435 186h0M416 129h0M411 90h0M406 80h0M437 187h0M429 75h0M437 239h0M400 171h0M412 197h0M413 165h0M391 109h0M404 132h0M429 138h0M395 166h0M399 103h0M411 106h0M397 147h0M424 209h0M431 130h0M392 148h0M415 98h0M436 229h0M440 101h0M416 90h0M403 173h0M420 179h0M424 150h0M431 163h0M420 102h0M437 77h0M415 202h0M417 116h0M423 106h0M412 174h0M402 131h0M394 112h0M428 85h0M434 150h0M417 213h0M390 134h0M437 140h0M388 126h0M425 85h0M414 203h0M412 164h0M416 100h0M408 105h0M438 216h0M427 130h0M407 75h0M425 151h0M438 136h0M437 181h0M418 163h0M427 163h0M438 129h0M434 82h0M431 152h0M403 111h0M435 87h0M408 85h0M437 184h0M415 165h0M424 148h0M433 191h0M405 157h0M439 165h0M407 85h0M429 169h0M405 101h0M424 185h0M436 105h0M407 86h0M429 172h0M432 109h0M412 137h0M421 187h0M395 137h0M432 153h0M422 206h0M432 99h0M409 110h0M422 76h0M416 208h0M425 148h0M398 175h0M432 238h0M426 218h0M405 93h0M402 125h0M413 110h0M401 154h0M434 236h0M407 116h0M397 132h0M435 220h0M405 136h0M405 131h0M406 176h0M415 135h0M432 70h0M415 145h0M419 108h0M395 158h0M396 157h0M425 94h0M431 174h0M438 87h0M406 156h0M428 230h0M426 158h0M425 214h0M429 104h0M434 103h0M418 112h0M411 88h0M430 69h0M408 80h0M433 165h0M437 178h0M422 89h0M435 88h0M425 156h0M423 151h0M398 104h0M414 89h0M399 107h0M419 109h0M405 79h0M389 125h0M417 119h0M432 213h0M419 150h0M409 123h0M411 193h0M402 99h0M419 157h0M403 87h0M405 135h0M435 106h0M398 146h0M413 128h0M430 187h0M389 129h0M424 101h0M411 185h0M423 110h0M428 234h0M403 138h0M391 112h0M413 171h0M424 147h0M404 158h0M417 111h0M403 168h0M408 134h0M396 109h0M415 83h0M400 165h0M437 229h0M437 110h0M438 113h0M421 217h0M395 138h0M427 225h0M393 123h0M407 174h0M433 108h0M410 86h0M428 118h0M432 159h0M411 140h0M430 98h0M436 87h0M425 129h0M420 105h0M411 195h0M414 200h0M428 205h0M439 192h0M390 108h0M421 145h0M431 117h0M428 181h0M391 165h0M395 154h0M419 110h0M414 152h0M400 84h0M432 93h0M432 179h0M423 203h0M413 201h0M392 150h0M431 222h0M394 94h0M421 157h0M415 205h0M432 183h0M390 152h0M431 164h0M397 128h0M433 238h0M421 84h0M430 138h0M411 161h0M438 233h0M432 192h0M406 75h0M418 99h0M426 179h0M403 143h0M428 177h0M426 196h0M396 126h0M393 166h0M422 178h0M414 92h0M423 183h0M421 122h0M411 123h0M424 202h0M427 134h0M419 117h0M413 193h0M417 155h0M426 151h0M431 233h0M419 190h0M433 226h0M420 149h0M415 187h0M412 135h0M390 144h0M424 146h0M432 239h0M438 121h0M401 95h0M413 206h0M434 105h0M434 70h0M414 139h0M398 82h0M425 176h0M431 126h0M427 107h0M407 77h0M436 219h0M438 72h0M426 100h0M428 138h0M413 191h0M420 129h0M429 96h0M430 213h0M429 117h0M435 218h0M417 113h0M422 209h0M423 156h0M422 155h0M439 175h0M409 188h0M390 121h0M413 204h0M421 164h0M431 228h0M406 85h0M418 222h0M424 201h0M429 167h0M439 72h0M394 138h0M401 132h0M395 169h0M418 145h0M417 82h0M419 133h0M428 217h0M418 162h0M428 103h0M400 80h0M427 230h0M417 182h0M411 198h0M417 133h0M394 116h0M410 160h0M420 70h0M394 172h0M427 202h0M422 121h0M425 183h0M425 106h0M401 166h0M413 147h0M436 88h0M427 123h0M422 101h0M422 167h0M422 168h0M401 117h0M416 161h0M416 86h0M413 79h0M432 108h0M438 231h0M424 133h0M410 101h0M418 139h0M420 86h0M429 185h0M389 141h0M432 200h0M436 120h0M411 164h0M423 71h0M411 170h0M431 136h0M419 188h0M421 109h0M405 127h0M437 180h0M433 168h0M400 94h0M421 161h0M424 75h0M393 155h0M427 194h0M394 157h0M407 192h0M412 98h0M419 142h0M421 106h0M390 130h0M417 202h0M438 104h0M408 165h0M429 179h0M418 111h0M434 205h0M388 120h0M393 105h0M421 121h0M409 182h0M390 131h0M424 100h0M405 99h0M430 165h0M429 149h0M406 158h0M439 186h0M421 185h0M435 223h0M423 132h0M412 125h0M399 127h0M402 88h0M423 173h0M421 132h0M411 183h0M412 84h0M390 157h0M405 108h0M436 228h0M401 160h0M409 109h0M396 120h0M424 180h0M427 220h0M392 103h0M433 215h0M429 150h0M437 225h0M436 70h0M429 155h0M431 134h0M437 243h0M438 199h0M416 170h0M438 161h0M395 172h0M402 120h0M393 96h0M431 144h0M431 118h0M425 72h0M405 170h0M397 95h0M439 132h0M415 134h0M388 112h0M411 160h0M426 119h0M437 171h0M401 182h0M413 71h0M430 153h0M416 125h0M422 165h0M437 150h0M414 186h0M388 110h0M399 85h0M408 142h0M425 138h0M429 71h0M417 120h0M400 176h0M434 91h0M415 129h0M429 94h0M438 175h0M426 175h0M434 238h0M403 163h0M398 106h0M407 188h0M427 237h0M418 107h0M405 128h0M416 166h0M439 115h0M414 130h0M395 139h0M431 220h0M420 72h0M412 100h0M390 143h0M417 184h0M397 173h0M390 120h0M414 98h0M402 96h0M397 99h0M408 125h0M414 128h0M437 96h0M415 177h0M404 189h0M434 104h0M432 214h0M438 210h0M435 113h0M429 141h0M391 145h0M439 70h0M418 217h0M399 94h0M409 141h0M420 114h0M414 178h0M417 103h0M416 72h0M420 109h0M378 143h0M396 111h0M389 184h0M379 127h0M391 137h0M390 104h0M395 153h0M380 106h0M387 152h0M394 95h0M392 173h0M392 139h0M388 134h0M386 197h0M389 158h0M397 137h0M389 174h0M403 99h0M386 96h0M389 154h0M397 119h0M397 152h0M396 138h0M382 142h0M393 159h0M385 154h0M395 177h0M395 210h0M393 162h0M390 158h0M395 113h0M390 125h0M391 160h0M399 101h0M396 251h0M390 237h0M411 214h0M417 195h0M430 220h0M431 191h0M424 191h0M392 171h0M403 240h0M418 238h0M407 189h0M412 215h0M405 221h0M411 247h0M424 244h0M418 193h0M392 220h0M405 178h0M396 210h0M389 214h0M410 188h0M420 260h0M404 213h0M401 234h0M421 231h0M404 205h0M431 245h0M424 218h0M414 220h0M399 211h0M404 220h0M411 238h0M422 176h0M407 234h0M406 211h0M394 245h0M426 239h0M434 210h0M401 213h0M427 203h0M437 191h0M435 209h0M426 231h0M404 208h0M393 184h0M403 212h0M419 189h0M431 214h0M430 227h0M411 233h0M419 237h0M407 194h0M389 156h0M404 211h0M427 207h0M423 228h0M415 227h0M419 231h0M409 197h0M395 164h0M405 219h0M418 215h0M406 200h0M419 240h0M407 209h0M408 217h0M425 250h0M403 187h0M417 230h0M416 227h0M390 201h0M432 202h0M400 267h0M406 173h0M420 206h0M401 193h0M420 237h0M395 213h0M413 192h0M422 230h0M406 226h0M413 209h0M416 229h0M430 219h0M427 232h0M414 187h0M415 225h0M406 232h0M406 192h0M404 245h0M422 217h0M407 199h0M399 206h0M400 211h0M409 222h0M416 182h0M397 240h0M413 182h0M423 255h0M397 208h0M404 180h0M385 192h0M396 216h0M394 189h0M413 239h0M405 223h0M438 179h0M438 156h0M439 149h0M439 143h0M439 237h0M439 153h0M440 188h0M439 155h0M439 190h0M439 158h0M438 205h0M439 193h0M439 169h0M440 174h0M439 236h0M439 181h0M439 161h0M439 195h0M440 218h0M440 185h0M439 207h0M439 232h0M439 146h0M439 223h0M439 209h0M439 208h0M438 235h0M440 180h0M439 197h0M439 157h0M439 230h0M439 189h0M439 187h0M439 168h0M439 235h0M439 212h0M438 170h0M439 178h0M439 206h0M438 193h0M439 228h0M439 204h0M439 145h0M439 162h0M439 241h0M440 204h0M439 159h0M440 146h0M438 185h0M438 198h0M439 140h0M439 167h0M439 144h0M438 189h0M440 179h0M439 214h0M439 188h0M438 149h0M440 171h0M439 184h0M439 172h0M440 229h0M440 201h0M440 208h0M440 241h0M439 225h0M439 196h0M440 234h0M439 203h0M439 185h0M440 161h0M440 173h0M439 163h0M438 190h0M439 152h0M440 237h0M438 240h0M440 167h0M438 244h0M439 227h0M439 182h0M439 200h0M440 156h0M438 223h0M439 220h0M438 141h0M520 115h0M518 150h0M517 218h0M517 265h0M520 241h0M520 230h0M516 251h0M515 203h0M514 205h0M509 153h0M518 149h0M520 233h0M518 234h0M518 112h0M518 213h0M523 278h0M520 163h0M522 267h0M516 224h0M520 240h0M520 263h0M514 99h0M519 204h0M511 138h0M513 118h0M521 131h0M521 262h0M511 209h0M521 268h0M517 125h0M519 268h0M513 205h0M519 269h0M520 226h0M524 127h0M520 122h0M517 258h0M520 217h0M525 243h0M516 134h0M513 213h0M521 141h0M519 278h0M517 133h0M518 136h0M517 109h0M517 186h0M520 188h0M520 193h0M522 290h0M520 142h0M518 144h0M515 143h0M524 126h0M518 183h0M521 185h0M520 278h0M512 151h0M513 227h0M516 195h0M522 228h0M519 187h0M519 189h0M515 144h0M512 153h0M517 212h0M515 252h0M514 173h0M521 251h0M514 136h0M512 154h0M519 196h0M518 120h0M520 256h0M515 265h0M519 153h0M516 143h0M519 221h0M522 278h0M520 253h0M521 160h0M519 164h0M516 218h0M515 180h0M524 204h0M525 244h0M520 283h0M518 208h0M519 176h0M520 147h0M511 136h0M520 178h0M519 215h0M518 129h0M516 119h0M523 127h0M516 185h0M524 121h0M524 254h0M516 155h0M523 288h0M521 196h0M518 221h0M512 231h0M519 127h0M523 220h0M522 216h0M522 280h0M521 177h0M518 250h0M515 194h0M515 236h0M514 165h0M520 268h0M515 238h0M518 154h0M511 173h0M517 204h0M513 235h0M522 180h0M522 269h0M519 265h0M518 241h0M516 174h0M515 166h0M520 154h0M517 263h0M516 184h0M514 210h0M522 217h0M519 225h0M521 157h0M514 187h0M508 170h0M521 243h0M519 194h0M522 266h0M520 273h0M520 161h0M521 234h0M517 223h0M514 251h0M520 182h0M520 247h0M516 171h0M516 244h0M524 287h0M517 107h0M520 264h0M518 262h0M514 117h0M520 239h0M516 252h0M522 123h0M522 189h0M519 238h0M515 216h0M525 193h0M519 249h0M516 105h0M521 175h0M521 283h0M510 171h0M511 205h0M520 145h0M515 162h0M521 269h0M514 141h0M518 191h0M513 98h0M516 194h0M522 194h0M518 102h0M516 153h0M517 202h0M524 119h0M518 167h0M516 100h0M522 288h0M515 105h0M512 219h0M521 167h0M515 119h0M517 231h0M523 264h0M517 108h0M523 218h0M519 242h0M515 132h0M516 163h0M520 224h0M519 274h0M524 278h0M519 123h0M521 263h0M519 224h0M519 279h0M524 227h0M515 152h0M517 203h0M518 173h0M514 151h0M520 166h0M512 126h0M519 205h0M513 171h0M516 116h0M516 161h0M515 150h0M522 256h0M519 141h0M514 168h0M519 104h0M517 141h0M511 167h0M512 213h0M521 281h0M520 251h0M511 174h0M517 119h0M516 117h0M519 144h0M519 277h0M517 115h0M518 233h0M519 154h0M521 144h0M524 172h0M511 199h0M518 185h0M513 127h0M515 233h0M510 113h0M518 260h0M520 287h0M521 286h0M517 122h0M518 165h0M517 100h0M515 142h0M512 123h0M511 133h0M520 261h0M513 186h0M518 105h0M518 266h0M513 114h0M516 99h0M517 117h0M523 270h0M515 198h0M517 243h0M520 269h0M521 227h0M516 123h0M518 207h0M517 157h0M521 267h0M516 261h0M519 203h0M517 129h0M521 238h0M516 151h0M518 155h0M520 284h0M525 281h0M511 155h0M513 176h0M516 233h0M510 111h0M514 121h0M523 258h0M520 236h0M520 174h0M518 247h0M515 207h0M512 200h0M514 250h0M521 194h0M516 188h0M522 118h0M517 276h0M517 105h0M511 122h0M522 135h0M517 180h0M519 283h0M522 236h0M516 103h0M517 103h0M518 277h0M523 237h0M523 129h0M515 164h0M519 136h0M521 261h0M522 275h0M516 257h0M517 158h0M512 125h0M516 126h0M518 107h0M520 139h0M509 147h0M512 177h0M518 113h0M520 257h0M520 252h0M522 271h0M519 228h0M517 252h0M516 214h0M517 273h0M518 210h0M521 198h0M522 263h0M520 228h0M520 275h0M516 201h0M519 206h0M518 159h0M514 114h0M521 143h0M513 125h0M519 245h0M518 218h0M518 239h0M521 218h0M518 230h0M519 184h0M518 169h0M519 183h0M520 281h0M520 243h0M519 254h0M522 282h0M516 215h0M519 179h0M522 279h0M516 186h0M521 278h0M519 140h0M518 273h0M521 239h0M521 288h0M516 111h0M517 112h0M515 116h0M513 233h0M519 240h0M516 220h0M524 286h0M523 259h0M515 202h0M523 284h0M519 261h0M513 145h0M522 268h0M519 152h0M520 262h0M523 140h0M522 137h0M513 156h0M514 194h0M514 148h0M521 244h0M517 220h0M522 242h0M517 175h0M520 195h0M518 240h0M516 158h0M517 168h0M516 232h0M511 121h0M519 289h0M521 276h0M511 140h0M518 272h0M514 108h0M520 218h0M515 109h0M516 242h0M519 132h0M519 131h0M520 132h0M515 165h0M518 283h0M516 122h0M522 107h0M513 196h0M522 141h0M518 264h0M523 281h0M520 280h0M509 186h0M517 264h0M515 111h0M516 210h0M521 146h0M521 231h0M517 182h0M520 255h0M515 115h0M511 170h0M519 247h0M521 219h0M523 289h0M515 190h0M514 116h0M521 154h0M518 187h0M514 219h0M517 245h0M524 242h0M525 285h0M522 151h0M520 266h0M520 104h0M521 289h0M513 122h0M518 211h0M513 137h0M516 168h0M525 237h0M518 176h0M520 207h0M515 122h0M519 217h0M517 255h0M512 187h0M517 230h0M516 275h0M518 257h0M513 167h0M514 169h0M522 154h0M519 188h0M521 246h0M516 102h0M515 99h0M514 143h0M523 210h0M507 203h0M520 112h0M517 249h0M517 184h0M520 126h0M520 279h0M516 192h0M522 117h0M524 247h0M520 235h0M510 165h0M515 154h0M521 174h0M516 146h0M517 226h0M521 209h0M516 236h0M522 204h0M512 161h0M520 190h0M512 175h0M511 201h0M521 208h0M521 257h0M514 146h0M512 178h0M519 103h0M516 135h0M521 170h0M515 98h0M519 172h0M516 152h0M516 262h0M513 187h0M521 117h0M513 198h0M522 277h0M518 156h0M517 227h0M519 235h0M523 165h0M519 125h0M521 182h0M513 111h0M519 264h0M512 148h0M514 167h0M516 196h0M517 127h0M519 239h0M516 159h0M517 106h0M521 222h0M521 201h0M519 157h0M519 177h0M525 240h0M520 179h0M519 105h0M514 209h0M517 170h0M516 199h0M518 229h0M522 262h0M513 173h0M523 191h0M514 201h0M512 112h0M520 151h0M516 141h0M518 162h0M518 258h0M517 166h0M516 166h0M518 214h0M519 133h0M509 160h0M519 142h0M515 149h0M513 148h0M520 289h0M518 261h0M522 241h0M516 237h0M518 133h0M515 106h0M519 231h0M510 146h0M513 229h0M519 287h0M516 101h0M522 164h0M517 242h0M519 185h0M521 127h0M521 230h0M520 290h0M517 142h0M516 131h0M515 226h0M508 199h0M515 240h0M515 168h0M523 277h0M518 267h0M520 222h0M519 273h0M515 237h0M517 138h0M516 189h0M522 257h0M520 181h0M516 231h0M510 201h0M519 226h0M509 195h0M519 150h0M514 234h0M513 246h0M515 118h0M517 152h0M516 154h0M521 179h0M525 181h0M517 156h0M519 270h0M515 140h0M524 231h0M520 242h0M520 129h0M521 280h0M523 219h0M519 122h0M519 251h0M516 205h0M518 243h0M520 131h0M516 133h0M507 191h0M521 290h0M523 126h0M511 165h0M521 173h0M513 215h0M515 182h0M520 184h0M520 272h0M520 201h0M522 261h0M518 161h0M522 171h0M519 210h0M513 165h0M517 278h0M525 122h0M517 172h0M511 113h0M515 206h0M518 126h0M522 276h0M519 275h0M520 140h0M522 229h0M518 98h0M515 145h0M521 275h0M521 273h0M519 162h0M513 202h0M521 148h0M519 233h0M516 142h0M514 184h0M510 114h0M521 203h0M520 225h0M519 258h0M520 229h0M514 112h0M513 129h0M515 114h0M514 230h0M520 197h0M515 113h0M516 125h0M519 290h0M519 116h0M523 290h0M518 123h0M517 174h0M511 175h0M513 168h0M521 151h0M522 264h0M525 290h0M515 178h0M511 112h0M518 274h0M514 137h0M520 108h0M518 134h0M512 157h0M522 125h0M522 221h0M520 168h0M515 199h0M511 153h0M517 192h0M520 169h0M521 255h0M520 109h0M518 199h0M517 110h0M515 214h0M520 238h0M520 136h0M512 235h0M524 266h0M522 289h0M510 190h0M520 114h0M515 192h0M512 190h0M522 244h0M501 133h0M503 141h0M505 137h0M502 152h0M506 147h0M501 168h0M504 176h0M503 158h0M507 185h0M505 199h0M506 120h0M504 124h0M512 87h0M515 91h0M511 97h0M508 99h0M519 98h0M502 105h0M504 111h0M506 113h0M496 219h0M496 227h0M503 214h0M498 267h0M511 261h0M517 293h0M516 286h0M524 289h0M525 282h0M382 251h0M410 278h0M422 261h0M398 242h0M375 241h0"/>
<path stroke="#58ff58" d="M429 75h0M433 76h0M434 75h0M437 75h0M439 76h0M445 76h0M446 76h0M426 77h0M429 78h0M431 78h0M433 79h0M436 78h0M438 77h0M440 78h0M442 78h0M445 78h0M447 78h0M428 80h0M429 80h0M432 81h0M434 80h0M436 81h0M440 81h0M441 81h0M444 81h0M446 81h0M449 81h0M427 84h0M429 84h0M431 84h0M433 84h0M436 84h0M439 83h0M440 83h0M443 83h0M445 83h0M447 83h0M450 83h0M452 83h0M428 85h0M430 86h0M432 85h0M435 85h0M436 85h0M439 85h0M442 86h0M444 86h0M447 86h0M449 86h0M452 85h0M426 88h0M429 89h0M431 87h0M433 89h0M435 88h0M438 87h0M440 89h0M442 88h0M445 88h0M448 87h0M451 88h0M452 89h0M456 88h0M428 90h0M430 90h0M433 90h0M435 91h0M437 90h0M439 90h0M441 91h0M443 90h0M446 90h0M448 90h0M452 91h0M454 91h0M457 90h0M428 92h0M431 92h0M434 93h0M435 92h0M439 92h0M441 92h0M443 92h0M445 93h0M447 93h0M450 94h0M453 92h0M455 93h0M457 92h0M459 92h0M428 95h0M430 95h0M433 95h0M435 95h0M437 95h0M439 95h0M442 95h0M444 95h0M447 95h0M450 95h0M452 94h0M454 95h0M457 95h0M458 95h0M462 94h0M427 98h0M428 98h0M431 97h0M433 97h0M435 97h0M439 98h0M440 97h0M443 98h0M445 97h0M448 98h0M450 97h0M453 97h0M456 97h0M458 98h0M459 97h0M462 97h0M465 98h0M427 100h0M430 100h0M432 100h0M435 101h0M437 99h0M439 101h0M442 99h0M444 99h0M446 100h0M450 99h0M452 100h0M454 100h0M457 100h0M458 99h0M462 100h0M464 100h0M465 99h0M467 100h0M427 103h0M429 102h0M431 103h0M433 101h0M436 102h0M437 102h0M440 102h0M443 103h0M445 102h0M448 103h0M450 102h0M453 103h0M456 101h0M458 103h0M459 103h0M461 102h0M465 103h0M468 102h0M470 103h0M425 104h0M427 104h0M430 104h0M432 105h0M434 104h0M436 105h0M440 105h0M442 104h0M443 105h0M447 105h0M449 105h0M452 105h0M453 105h0M456 105h0M459 105h0M461 105h0M464 104h0M465 104h0M467 105h0M470 106h0M472 105h0M424 107h0M426 106h0M429 106h0M431 108h0M433 106h0M436 107h0M438 106h0M441 107h0M444 107h0M445 107h0M447 107h0M451 107h0M452 108h0M454 107h0M458 107h0M460 107h0M462 107h0M464 108h0M466 107h0M469 108h0M472 106h0M474 108h0M423 110h0M425 109h0M428 110h0M430 109h0M432 110h0M434 110h0M437 110h0M440 110h0M442 110h0M444 110h0M446 110h0M448 110h0M452 109h0M453 110h0M457 110h0M459 110h0M460 109h0M463 110h0M465 110h0M468 110h0M471 110h0M473 109h0M475 110h0M477 110h0M424 113h0M426 113h0M428 113h0M432 112h0M433 111h0M435 112h0M437 112h0M441 111h0M444 112h0M445 112h0M448 111h0M451 112h0M453 112h0M456 112h0M457 112h0M461 111h0M462 112h0M465 113h0M467 112h0M470 112h0M471 113h0M474 111h0M477 112h0M423 115h0M428 115h0M430 115h0M433 114h0M435 114h0M436 115h0M440 115h0M441 114h0M444 115h0M447 115h0M449 114h0M451 114h0M454 115h0M456 114h0M459 115h0M461 114h0M464 114h0M466 115h0M468 114h0M471 114h0M472 114h0M475 114h0M478 114h0M421 117h0M423 117h0M425 117h0M428 117h0M432 116h0M433 116h0M436 117h0M438 116h0M441 117h0M444 117h0M446 116h0M449 117h0M451 116h0M452 117h0M454 116h0M457 117h0M459 116h0M463 117h0M465 117h0M467 118h0M470 116h0M472 116h0M474 117h0M477 117h0M479 117h0M421 119h0M422 119h0M424 118h0M427 118h0M431 119h0M432 119h0M434 119h0M437 120h0M440 119h0M442 119h0M444 119h0M447 120h0M450 119h0M452 120h0M454 119h0M456 119h0M458 118h0M461 119h0M464 118h0M465 120h0M469 120h0M470 120h0M472 119h0M476 119h0M478 119h0M480 118h0M422 121h0M424 121h0M427 121h0M429 121h0M430 122h0M433 121h0M436 121h0M439 122h0M440 122h0M442 122h0M445 121h0M448 122h0M450 122h0M452 122h0M455 121h0M458 121h0M459 122h0M462 121h0M464 122h0M467 121h0M469 121h0M472 121h0M475 121h0M476 121h0M478 122h0M482 122h0M484 122h0M423 124h0M424 124h0M427 124h0M430 125h0M432 125h0M434 123h0M437 123h0M439 123h0M443 123h0M445 123h0M447 124h0M450 124h0M451 124h0M453 124h0M456 124h0M458 124h0M460 124h0M464 124h0M466 123h0M467 124h0M470 123h0M472 123h0M475 124h0M479 125h0M481 124h0M483 125h0M485 124h0M421 126h0M423 126h0M426 126h0M428 126h0M431 127h0M433 127h0M436 126h0M438 127h0M441 126h0M443 126h0M445 127h0M448 126h0M450 127h0M453 127h0M455 127h0M457 127h0M460 127h0M462 127h0M464 125h0M466 127h0M469 126h0M472 127h0M475 125h0M476 126h0M479 126h0M481 126h0M484 127h0M486 126h0M422 128h0M426 129h0M427 129h0M429 129h0M433 129h0M434 129h0M437 129h0M440 129h0M442 129h0M445 128h0M446 130h0M448 130h0M452 129h0M454 128h0M456 128h0M458 129h0M460 128h0M463 129h0M465 128h0M469 129h0M471 128h0M473 129h0M475 129h0M478 129h0M480 128h0M483 129h0M486 129h0M488 129h0M421 131h0M423 132h0M427 131h0M429 132h0M430 131h0M434 132h0M435 130h0M438 132h0M441 131h0M442 130h0M445 130h0M448 131h0M450 132h0M453 131h0M456 131h0M457 131h0M460 131h0M462 132h0M465 131h0M468 132h0M470 132h0M473 131h0M474 131h0M476 132h0M479 132h0M482 132h0M483 131h0M486 131h0M489 131h0M420 134h0M423 133h0M425 134h0M427 134h0M430 133h0M433 133h0M434 133h0M438 134h0M439 133h0M443 134h0M445 133h0M447 134h0M449 133h0M451 133h0M454 133h0M456 134h0M459 134h0M461 134h0M463 133h0M465 134h0M468 134h0M470 134h0M472 134h0M475 133h0M478 133h0M480 133h0M482 133h0M485 133h0M487 134h0M419 135h0M422 136h0M424 136h0M427 135h0M429 137h0M432 136h0M434 136h0M436 136h0M438 135h0M441 135h0M443 137h0M446 136h0M448 136h0M451 136h0M452 136h0M456 135h0M457 136h0M460 136h0M463 136h0M464 137h0M468 136h0M470 136h0M472 137h0M475 136h0M476 137h0M479 136h0M481 135h0M484 136h0M486 135h0M488 135h0M423 139h0M425 137h0M428 139h0M429 138h0M432 138h0M435 139h0M437 138h0M439 138h0M442 139h0M445 138h0M447 138h0M450 138h0M452 138h0M453 138h0M456 138h0M458 138h0M462 138h0M464 139h0M466 139h0M468 138h0M471 138h0M474 138h0M476 138h0M478 139h0M479 137h0M483 139h0M485 138h0M488 139h0M422 140h0M423 141h0M426 141h0M428 141h0M430 141h0M434 141h0M436 140h0M438 140h0M441 140h0M442 141h0M445 141h0M447 141h0M450 140h0M453 141h0M455 141h0M457 141h0M461 140h0M463 141h0M465 141h0M468 141h0M470 140h0M472 141h0M474 140h0M476 141h0M479 141h0M482 141h0M484 142h0M486 140h0M425 143h0M428 143h0M429 143h0M432 143h0M435 142h0M437 142h0M440 143h0M441 144h0M444 142h0M447 144h0M449 144h0M451 144h0M454 144h0M456 144h0M458 144h0M461 142h0M463 143h0M465 143h0M469 144h0M471 144h0M472 143h0M475 142h0M478 143h0M480 144h0M482 143h0M485 142h0M487 144h0M438 145h0M440 146h0M443 145h0M445 145h0M448 146h0M451 146h0M452 145h0M455 145h0M458 145h0M460 145h0M462 146h0M464 146h0M467 146h0M470 145h0M471 145h0M474 146h0M476 145h0M478 145h0M481 146h0M485 146h0M486 146h0M442 148h0M444 148h0M446 148h0M449 148h0M452 149h0M454 147h0M456 147h0M458 147h0M462 148h0M463 148h0M466 148h0M468 147h0M471 147h0M473 147h0M475 147h0M478 149h0M480 149h0M483 148h0M485 149h0M487 148h0M443 150h0M446 150h0M448 150h0M450 150h0M453 149h0M456 150h0M457 150h0M460 149h0M462 150h0M465 149h0M468 150h0M470 150h0M472 150h0M474 151h0M477 150h0M479 150h0M482 151h0M483 151h0M486 150h0M488 150h0M444 153h0M446 152h0M449 154h0M452 153h0M454 153h0M456 153h0M459 152h0M460 153h0M463 153h0M465 153h0M468 153h0M470 152h0M473 152h0M475 152h0M477 153h0M480 153h0M483 153h0M484 153h0M488 152h0M443 155h0M445 155h0M447 154h0M450 156h0M453 155h0M454 156h0M458 156h0M460 156h0M462 156h0M465 154h0M467 156h0M469 155h0M472 155h0M474 154h0M476 155h0M478 155h0M481 156h0M483 155h0M485 156h0M489 155h0M442 158h0M444 158h0M446 158h0M448 157h0M451 158h0M454 158h0M456 157h0M458 158h0M461 157h0M463 157h0M466 157h0M469 158h0M470 157h0M473 157h0M475 158h0M478 157h0M481 157h0M483 158h0M485 157h0M488 158h0M490 158h0M444 160h0M446 159h0M448 160h0M450 159h0M453 160h0M454 160h0M458 159h0M460 160h0M462 160h0M464 161h0M466 160h0M469 160h0M471 160h0M475 160h0M477 160h0M479 160h0M481 160h0M484 160h0M486 159h0M488 161h0M492 160h0M442 163h0M444 162h0M447 162h0M449 162h0M451 162h0M453 163h0M456 162h0M459 162h0M461 163h0M463 163h0M466 163h0M468 162h0M471 163h0M472 162h0M475 162h0M478 162h0M480 162h0M483 162h0M484 162h0M487 162h0M489 163h0M492 161h0M444 165h0M446 165h0M448 165h0M450 165h0M452 164h0M454 164h0M458 165h0M459 165h0M463 164h0M464 164h0M468 165h0M470 164h0M473 165h0M477 165h0M479 165h0M481 164h0M484 165h0M487 164h0M489 164h0M491 165h0M493 165h0M441 166h0M444 166h0M446 168h0M450 167h0M451 167h0M453 167h0M457 167h0M459 168h0M461 167h0M464 167h0M466 167h0M468 168h0M471 166h0M473 167h0M476 167h0M478 168h0M481 167h0M482 167h0M485 168h0M487 167h0M489 166h0M492 168h0M494 166h0M445 169h0M448 169h0M451 169h0M453 170h0M455 169h0M458 170h0M461 170h0M462 170h0M465 169h0M467 170h0M469 169h0M472 169h0M474 170h0M477 169h0M479 170h0M481 170h0M484 170h0M487 170h0M488 170h0M492 170h0M494 170h0M495 169h0M449 172h0M452 172h0M454 172h0M457 171h0M459 173h0M462 172h0M463 172h0M466 171h0M468 172h0M470 172h0M473 172h0M476 171h0M478 173h0M481 172h0M483 172h0M484 172h0M487 172h0M489 172h0M493 171h0M495 171h0M453 174h0M455 174h0M457 174h0M460 174h0M461 175h0M465 174h0M467 175h0M470 174h0M471 174h0M474 174h0M477 175h0M480 175h0M481 175h0M484 174h0M486 174h0M489 174h0M491 174h0M493 175h0M457 177h0M459 177h0M461 177h0M464 176h0M466 177h0M469 177h0M471 177h0M473 176h0M475 177h0M478 176h0M481 177h0M483 176h0M486 178h0M487 177h0M490 176h0M491 177h0M494 178h0M462 179h0M465 179h0M468 178h0M470 179h0M472 179h0M474 178h0M477 178h0M480 179h0M481 180h0M484 179h0M487 179h0M488 180h0M491 179h0M493 179h0M464 181h0M467 181h0M469 182h0M471 181h0M472 182h0M476 181h0M477 182h0M480 181h0M482 182h0M486 182h0M487 181h0M489 181h0M491 181h0M494 181h0M469 185h0M472 183h0M474 184h0M476 183h0M479 184h0M481 184h0M484 184h0M486 184h0M489 183h0M491 184h0M493 185h0M471 186h0M473 186h0M476 186h0M478 186h0M481 187h0M482 186h0M485 186h0M487 186h0M490 187h0M492 185h0M494 186h0M475 188h0M477 189h0M478 189h0M481 189h0M483 188h0M486 189h0M489 189h0M491 188h0M493 190h0M478 191h0M481 191h0M483 191h0M484 191h0M488 191h0M490 192h0M492 191h0M494 191h0M483 193h0M486 194h0M488 193h0M491 194h0M493 194h0M495 194h0M487 196h0M489 195h0M493 197h0M495 195h0M489 198h0M491 198h0M494 199h0M494 201h0M441 168h0M443 169h0M444 169h0M445 170h0M446 170h0M447 171h0M448 172h0M449 173h0M451 173h0M452 174h0M453 175h0M454 176h0M455 176h0M456 177h0M457 178h0M458 178h0M459 179h0M460 180h0M462 181h0M463 181h0M464 182h0M465 183h0M466 183h0M467 184h0M468 185h0M469 186h0M470 186h0M472 187h0M473 188h0M474 188h0M475 189h0M476 190h0M477 191h0M480 192h0M481 193h0M482 193h0M483 194h0M484 195h0M485 196h0M486 196h0M488 197h0M490 198h0M491 199h0M492 200h0M493 200h0M495 202h0M442 147h0M441 149h0M441 151h0M441 152h0M442 153h0M441 155h0M441 157h0M441 158h0M441 159h0M442 161h0M441 162h0M442 165h0M442 166h0M442 168h0M419 137h0M420 138h0M423 142h0M424 143h0M426 143h0M429 144h0M431 144h0M432 145h0M435 145h0M436 145h0M438 146h0M490 131h0M483 115h0M478 105h0M432 75h0M442 76h0M464 94h0M464 91h0M460 97h0M427 77h0M469 94h0M480 117h0M436 72h0M428 78h0M455 90h0M462 87h0M460 93h0M465 90h0M482 111h0M465 92h0M487 125h0M469 105h0M448 74h0M458 94h0M455 87h0M448 77h0M485 114h0M463 100h0M478 101h0M464 101h0M482 120h0M441 76h0M477 101h0M427 72h0M479 105h0M455 77h0M460 98h0M490 126h0M486 117h0M460 88h0M485 125h0M458 92h0M479 116h0M455 89h0M482 117h0M467 102h0M450 82h0M453 83h0M457 85h0M490 130h0M439 72h0M452 84h0M443 77h0M487 120h0M437 77h0M460 95h0M479 113h0M456 89h0M443 79h0M476 111h0M462 95h0M453 90h0M480 114h0M482 112h0M466 94h0M448 82h0M487 118h0M473 100h0M429 79h0M462 90h0M469 103h0M469 100h0M488 128h0M482 114h0M475 101h0M461 89h0M459 95h0M453 78h0M450 74h0M476 109h0M467 95h0M477 113h0M488 118h0M467 101h0M442 75h0M472 97h0M465 100h0M490 133h0M480 110h0M457 89h0M457 87h0M454 79h0M454 85h0M483 123h0M480 105h0M452 80h0M463 98h0M445 71h0M452 78h0M434 74h0M478 110h0M434 73h0M462 93h0M489 130h0M443 76h0M433 59h0M483 89h0M484 106h0M473 77h0M469 83h0M486 92h0M488 93h0M446 58h0M446 69h0M473 80h0M478 80h0M464 86h0M484 99h0M490 112h0M476 95h0M461 73h0M456 77h0M454 70h0M470 79h0M491 121h0M474 84h0M479 101h0M456 67h0M471 74h0M440 67h0M437 58h0M477 87h0M476 92h0M446 66h0M457 78h0M473 76h0M439 66h0M488 112h0M438 61h0M484 108h0M460 82h0M481 88h0M490 106h0M475 90h0M440 59h0M487 103h0M490 147h0M491 136h0M492 144h0M490 146h0M489 141h0M490 134h0M493 132h0M492 132h0M498 187h0M496 192h0M495 178h0M496 166h0M495 191h0M495 162h0M494 202h0M497 198h0M496 201h0M497 162h0M495 164h0M497 179h0M495 203h0M496 172h0M417 127h0M417 118h0M411 117h0M422 101h0M414 120h0M414 125h0M417 124h0M413 122h0M424 105h0M409 112h0M413 111h0M404 114h0M419 119h0M413 118h0M422 109h0M404 102h0M420 129h0M420 111h0M415 119h0M408 120h0M407 113h0M414 126h0M423 104h0M418 119h0M406 108h0M415 108h0M416 100h0M406 103h0M424 102h0M414 106h0M404 106h0M405 109h0M400 107h0M420 105h0M413 106h0M419 128h0M414 117h0M415 109h0M397 109h0M417 132h0M401 104h0M418 126h0M404 104h0M412 120h0M408 106h0M408 116h0M421 108h0M415 121h0M410 102h0M402 105h0M414 113h0M417 116h0M415 102h0M419 100h0M406 112h0M415 125h0M401 101h0M398 103h0M421 103h0M415 122h0M411 103h0M414 111h0M396 109h0M413 101h0M410 103h0M418 113h0M423 86h0M421 88h0M412 99h0M418 90h0M408 99h0M413 94h0M400 60h0M403 65h0M399 72h0M416 67h0M423 64h0M408 71h0M405 75h0M414 77h0M404 82h0M398 87h0M417 83h0M414 87h0M418 89h0M401 90h0M405 92h0M397 96h0M411 95h0M408 98h0M432 60h0M437 54h0M446 59h0M438 66h0M444 69h0M428 73h0M433 70h0M422 76h0M421 84h0M424 80h0M393 104h0M396 108h0M499 143h0M496 155h0M502 171h0M499 184h0M498 190h0M510 210h0M503 131h0M499 136h0M501 160h0M403 18h0M416 18h0M448 18h0M486 18h0M489 18h0"/>
<path fill="#0000ff" stroke="none" d="M387 126h3v2h1v4h-3v-2h-1zM392 133h4v2h-1v1h-3zM397 127h3v1h2v2h1v1h-2v-1h-2v-1h-2zM406 139h1v3h-1zM402 141h2v2h-2zM431 155h3v2h-2v1h-1zM428 146h2v1h-2z"/>
</g>
<g stroke="#8b939b" stroke-width="1" fill="none" shape-rendering="crispEdges">
<rect x="157.5" y="13.5" width="380" height="380"/>
<path d="M152 18.5h5M152 92.5h5M152 166.5h5M152 240.5h5M152 314.5h5M152 388.5h5"/>
<path stroke="#c9cdd1" d="M151 18.5h1M151 92.5h1M151 166.5h1M151 240.5h1M151 314.5h1M151 388.5h1"/>
<path d="M162.5 394v5M236.5 394v5M310.5 394v5M384.5 394v5M458.5 394v5M532.5 394v5"/>
<path stroke="#c9cdd1" d="M162.5 399v1M236.5 399v1M310.5 399v1M384.5 399v1M458.5 399v1M532.5 399v1"/>
</g>
<g text-anchor="end" transform="translate(-0.4,0)">
<text x="147" y="22">1.0</text><text x="147" y="96">0.8</text><text x="147" y="170">0.6</text>
<text x="147" y="244">0.4</text><text x="147" y="318">0.2</text><text x="147" y="392">0.0</text>
</g>
<g text-anchor="middle">
<text x="161.25" y="415">0.0</text><text x="235.25" y="415">0.2</text><text x="309.25" y="415">0.4</text>
<text x="383.25" y="415">0.6</text><text x="457.25" y="415">0.8</text><text x="531.25" y="415">1.0</text>
<text x="346" y="437" textLength="141" lengthAdjust="spacing">A-priori propensity score</text>
<text transform="translate(112,203) rotate(-90)" textLength="119" lengthAdjust="spacing">Bias-likelihood score</text>
</g>
<rect x="166.5" y="452.5" width="362" height="16" fill="#fff" stroke="#c8c8c8" stroke-width="1" shape-rendering="crispEdges"/>
<text x="171" y="465" textLength="33.5">target</text>
<path d="M226.5 460.5h0" stroke="#0000ff" stroke-width="5" stroke-linecap="round" shape-rendering="crispEdges"/>
<text x="236.3" y="465" textLength="67.3">Not targeted</text>
<path d="M316.5 460.5h0" stroke="#ff0000" stroke-width="5" stroke-linecap="round" shape-rendering="crispEdges"/>
<text x="326" y="465" textLength="125.5">Excluded by propensity</text>
<path d="M464.5 460.5h0" stroke="#58ff58" stroke-width="5" stroke-linecap="round" shape-rendering="crispEdges"/>
<text x="474" y="465" textLength="48.5">Targeted</text>
</svg>
</body></html>
